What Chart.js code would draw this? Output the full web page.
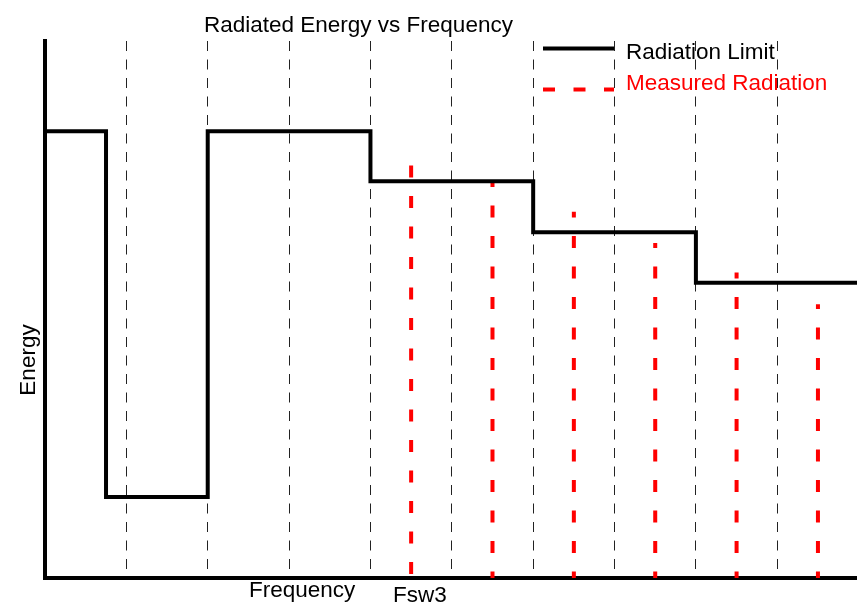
<!DOCTYPE html>
<html>
<head>
<meta charset="utf-8">
<script src="https://cdn.jsdelivr.net/npm/chart.js@4.4.0/dist/chart.umd.min.js"></script>
<style>
    body { margin: 0; background: #fff; }
    #wrap { width: 857px; height: 604px; position: relative; }
</style>
</head>
<body>
<div id="wrap"><canvas id="myChart"></canvas></div>
<script>
// radiation limit (step outline)
const limitX = [0, 0.75, 0.75, 2, 2, 4, 4, 6, 6, 8, 8, 9.98];
const limitY = [83.2, 83.2, 15.1, 15.1, 83.2, 83.2, 73.9, 73.9, 64.4, 64.4, 55.0, 55.0];

// measured radiation (vertical dashed spikes)
const measuredX = [4.5, 5.5, 6.5, 7.5, 8.5, 9.5];
const measuredY = [77.7, 73.8, 68.2, 62.4, 56.9, 51.0];

const gridTicks = [1, 2, 3, 4, 5, 6, 7, 8, 9];

const seriesNames = ['Radiation Limit', 'Measured Radiation'];
const chartTitle = 'Radiated Energy vs Frequency';
const xLabel = 'Frequency';
const yLabel = 'Energy';
const markLabel = 'Fsw3';

const FONT = '22.5px "Liberation Sans", Arial, sans-serif';

const textPlugin = {
    id: 'textPlugin',
    afterDraw(chart) {
        const ctx = chart.ctx;
        ctx.save();
        ctx.font = FONT;
        ctx.textBaseline = 'alphabetic';
        ctx.textAlign = 'left';
        ctx.fillStyle = '#000';
        ctx.fillText(chartTitle, 204, 32);
        ctx.fillText(xLabel, 249, 597);
        ctx.fillText(markLabel, 393, 602);

        // legend
        ctx.lineWidth = 4;
        ctx.lineCap = 'butt';
        ctx.strokeStyle = '#000';
        ctx.beginPath();
        ctx.moveTo(543, 48.5);
        ctx.lineTo(614, 48.5);
        ctx.stroke();
        ctx.fillText(seriesNames[0], 626, 59);

        ctx.strokeStyle = '#ff0000';
        ctx.setLineDash([12, 18.5]);
        ctx.beginPath();
        ctx.moveTo(543, 89.5);
        ctx.lineTo(614, 89.5);
        ctx.stroke();
        ctx.setLineDash([]);
        ctx.fillStyle = '#ff0000';
        ctx.fillText(seriesNames[1], 626, 90);

        // y label
        ctx.fillStyle = '#000';
        ctx.translate(34.5, 360);
        ctx.rotate(-Math.PI / 2);
        ctx.textAlign = 'center';
        ctx.fillText(yLabel, 0, 0);
        ctx.restore();
    }
};

const datasets = [{
    label: seriesNames[0],
    data: limitX.map((x, i) => ({x: x, y: limitY[i]})),
    borderColor: '#000',
    borderWidth: 4,
    borderJoinStyle: 'miter',
    pointRadius: 0,
    tension: 0
}];

measuredX.forEach((x, i) => {
    datasets.push({
        label: seriesNames[1],
        data: [{x: x, y: 0}, {x: x, y: measuredY[i]}],
        borderColor: '#ff0000',
        borderWidth: 4,
        borderDash: [12, 18.5],
        borderDashOffset: i === 0 ? 26.5 : 5.5,
        borderCapStyle: 'butt',
        pointRadius: 0
    });
});

const ctx = document.getElementById('myChart').getContext('2d');
const chart = new Chart(ctx, {
    type: 'line',
    data: { datasets },
    options: {
        responsive: true,
        maintainAspectRatio: false,
        animation: false,
        layout: { padding: { left: 45, top: 41, right: 0, bottom: 26 } },
        plugins: {
            legend: { display: false },
            title: { display: false },
            tooltip: { enabled: false }
        },
        scales: {
            x: {
                type: 'linear',
                min: 0,
                max: 9.98,
                afterBuildTicks: (scale) => {
                    scale.ticks = gridTicks.map(v => ({value: v}));
                },
                ticks: { display: false },
                grid: { color: '#222', lineWidth: 1, drawTicks: false },
                border: { color: '#000', width: 4, dash: [10, 8.5] }
            },
            y: {
                min: 0,
                max: 100,
                ticks: { display: false },
                grid: { display: false, drawTicks: false },
                border: { color: '#000', width: 4 }
            }
        }
    },
    plugins: [textPlugin]
});
</script>
</body>
</html>
